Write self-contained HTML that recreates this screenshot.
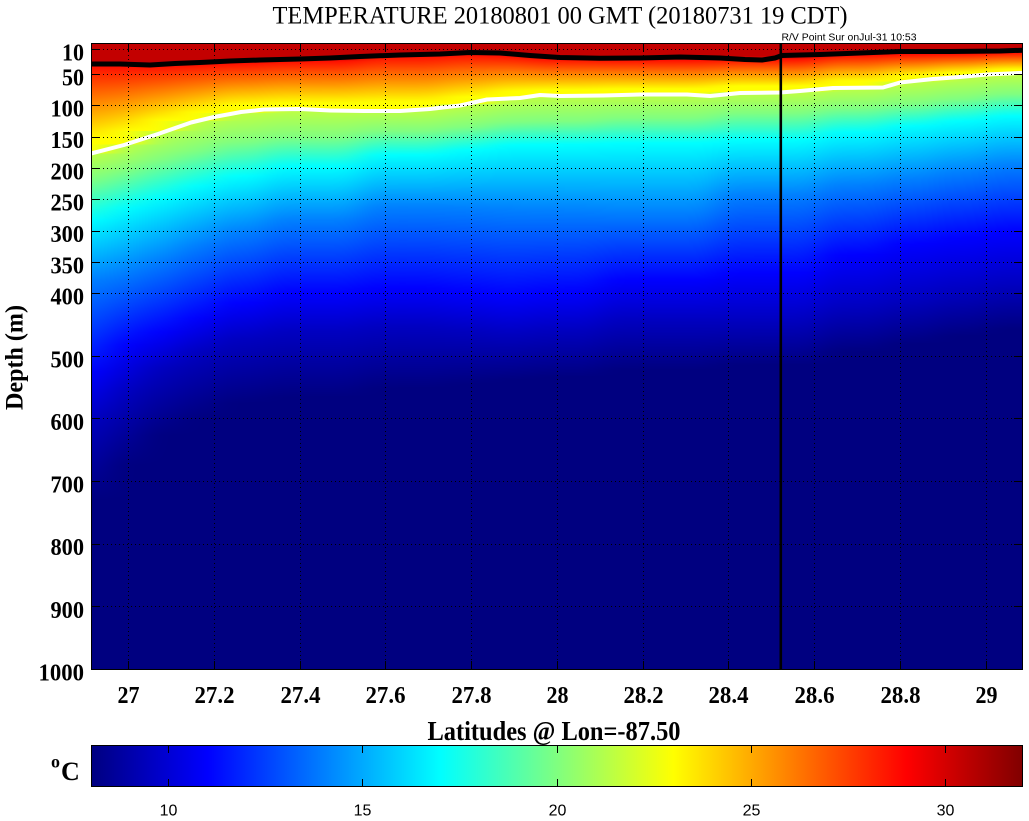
<!DOCTYPE html>
<html><head><meta charset="utf-8">
<style>
html,body{margin:0;padding:0;background:#fff;}
svg{display:block}
.a{stop-color:#c30000}.r{stop-color:#ff1000}.y{stop-color:#ffff00}.yg{stop-color:#c0ff40}
.g{stop-color:#80ff80}.c{stop-color:#00ffff}.lb{stop-color:#0080ff}.b{stop-color:#0000ff}
.db{stop-color:#0000c0}.n{stop-color:#000080}
.tk{font-family:"Liberation Serif",serif;font-weight:bold;font-size:24px;fill:#000}
.cb{font-family:"Liberation Sans",sans-serif;font-size:16px;fill:#000}
</style></head><body>
<svg width="1029" height="821" viewBox="0 0 1029 821" xmlns="http://www.w3.org/2000/svg">
<defs>
<clipPath id="plot"><rect x="91" y="43" width="932" height="627"/></clipPath>
<filter id="hb" filterUnits="userSpaceOnUse" x="0" y="0" width="1100" height="700" color-interpolation-filters="sRGB">
<feGaussianBlur stdDeviation="14 0"/>
</filter>
<linearGradient id="g1" gradientUnits="userSpaceOnUse" x1="0" y1="0" x2="0" y2="1000"><stop offset="0" class="a"/><stop offset=".063" class="a"/><stop offset=".0665" class="r"/><stop offset=".140" class="y"/><stop offset=".1535" class="y"/><stop offset=".1535" class="yg"/><stop offset=".180" class="g"/><stop offset=".220" class="c"/><stop offset=".280" class="lb"/><stop offset=".372" class="b"/><stop offset=".420" class="db"/><stop offset=".500" class="n"/><stop offset="1" class="n"/></linearGradient>
<linearGradient id="g2" gradientUnits="userSpaceOnUse" x1="0" y1="0" x2="0" y2="1000"><stop offset="0" class="a"/><stop offset=".0635" class="a"/><stop offset=".067" class="r"/><stop offset=".131" class="y"/><stop offset=".1445" class="y"/><stop offset=".1445" class="yg"/><stop offset=".171" class="g"/><stop offset=".208" class="c"/><stop offset=".272" class="lb"/><stop offset=".345" class="b"/><stop offset=".392" class="db"/><stop offset=".465" class="n"/><stop offset="1" class="n"/></linearGradient>
<linearGradient id="g3" gradientUnits="userSpaceOnUse" x1="0" y1="0" x2="0" y2="1000"><stop offset="0" class="a"/><stop offset=".063" class="a"/><stop offset=".0665" class="r"/><stop offset=".120" class="y"/><stop offset=".131" class="y"/><stop offset=".131" class="yg"/><stop offset=".160" class="g"/><stop offset=".197" class="c"/><stop offset=".260" class="lb"/><stop offset=".332" class="b"/><stop offset=".368" class="db"/><stop offset=".435" class="n"/><stop offset="1" class="n"/></linearGradient>
<linearGradient id="g4" gradientUnits="userSpaceOnUse" x1="0" y1="0" x2="0" y2="1000"><stop offset="0" class="a"/><stop offset=".0615" class="a"/><stop offset=".065" class="r"/><stop offset=".112" class="y"/><stop offset=".121" class="y"/><stop offset=".121" class="yg"/><stop offset=".151" class="g"/><stop offset=".186" class="c"/><stop offset=".245" class="lb"/><stop offset=".318" class="b"/><stop offset=".352" class="db"/><stop offset=".418" class="n"/><stop offset="1" class="n"/></linearGradient>
<linearGradient id="g5" gradientUnits="userSpaceOnUse" x1="0" y1="0" x2="0" y2="1000"><stop offset="0" class="a"/><stop offset=".060" class="a"/><stop offset=".0635" class="r"/><stop offset=".105" class="y"/><stop offset=".113" class="y"/><stop offset=".113" class="yg"/><stop offset=".142" class="g"/><stop offset=".176" class="c"/><stop offset=".232" class="lb"/><stop offset=".303" class="b"/><stop offset=".339" class="db"/><stop offset=".403" class="n"/><stop offset="1" class="n"/></linearGradient>
<linearGradient id="g6" gradientUnits="userSpaceOnUse" x1="0" y1="0" x2="0" y2="1000"><stop offset="0" class="a"/><stop offset=".058" class="a"/><stop offset=".0615" class="r"/><stop offset=".103" class="y"/><stop offset=".1095" class="y"/><stop offset=".1095" class="yg"/><stop offset=".137" class="g"/><stop offset=".166" class="c"/><stop offset=".220" class="lb"/><stop offset=".293" class="b"/><stop offset=".332" class="db"/><stop offset=".397" class="n"/><stop offset="1" class="n"/></linearGradient>
<linearGradient id="g7" gradientUnits="userSpaceOnUse" x1="0" y1="0" x2="0" y2="1000"><stop offset="0" class="a"/><stop offset=".0535" class="a"/><stop offset=".057" class="r"/><stop offset=".102" class="y"/><stop offset=".1095" class="y"/><stop offset=".1095" class="yg"/><stop offset=".131" class="g"/><stop offset=".155" class="c"/><stop offset=".207" class="lb"/><stop offset=".288" class="b"/><stop offset=".327" class="db"/><stop offset=".388" class="n"/><stop offset="1" class="n"/></linearGradient>
<linearGradient id="g8" gradientUnits="userSpaceOnUse" x1="0" y1="0" x2="0" y2="1000"><stop offset="0" class="a"/><stop offset=".0515" class="a"/><stop offset=".055" class="r"/><stop offset=".097" class="y"/><stop offset=".104" class="y"/><stop offset=".104" class="yg"/><stop offset=".127" class="g"/><stop offset=".150" class="c"/><stop offset=".208" class="lb"/><stop offset=".292" class="b"/><stop offset=".330" class="db"/><stop offset=".384" class="n"/><stop offset="1" class="n"/></linearGradient>
<linearGradient id="g9" gradientUnits="userSpaceOnUse" x1="0" y1="0" x2="0" y2="1000"><stop offset="0" class="a"/><stop offset=".053" class="a"/><stop offset=".0565" class="r"/><stop offset=".0915" class="y"/><stop offset=".098" class="y"/><stop offset=".098" class="yg"/><stop offset=".122" class="g"/><stop offset=".145" class="c"/><stop offset=".210" class="lb"/><stop offset=".296" class="b"/><stop offset=".334" class="db"/><stop offset=".380" class="n"/><stop offset="1" class="n"/></linearGradient>
<linearGradient id="g10" gradientUnits="userSpaceOnUse" x1="0" y1="0" x2="0" y2="1000"><stop offset="0" class="a"/><stop offset=".056" class="a"/><stop offset=".0595" class="r"/><stop offset=".090" class="y"/><stop offset=".0955" class="y"/><stop offset=".0955" class="yg"/><stop offset=".121" class="g"/><stop offset=".1445" class="c"/><stop offset=".211" class="lb"/><stop offset=".292" class="b"/><stop offset=".330" class="db"/><stop offset=".377" class="n"/><stop offset="1" class="n"/></linearGradient>
<linearGradient id="g11" gradientUnits="userSpaceOnUse" x1="0" y1="0" x2="0" y2="1000"><stop offset="0" class="a"/><stop offset=".0568" class="a"/><stop offset=".0603" class="r"/><stop offset=".089" class="y"/><stop offset=".0945" class="y"/><stop offset=".0945" class="yg"/><stop offset=".118" class="g"/><stop offset=".143" class="c"/><stop offset=".213" class="lb"/><stop offset=".280" class="b"/><stop offset=".320" class="db"/><stop offset=".370" class="n"/><stop offset="1" class="n"/></linearGradient>
<linearGradient id="g12" gradientUnits="userSpaceOnUse" x1="0" y1="0" x2="0" y2="1000"><stop offset="0" class="a"/><stop offset=".056" class="a"/><stop offset=".0595" class="r"/><stop offset=".086" class="y"/><stop offset=".092" class="y"/><stop offset=".092" class="yg"/><stop offset=".113" class="g"/><stop offset=".140" class="c"/><stop offset=".195" class="lb"/><stop offset=".273" class="b"/><stop offset=".320" class="db"/><stop offset=".365" class="n"/><stop offset="1" class="n"/></linearGradient>
<linearGradient id="g13" gradientUnits="userSpaceOnUse" x1="0" y1="0" x2="0" y2="1000"><stop offset="0" class="a"/><stop offset=".052" class="a"/><stop offset=".0555" class="r"/><stop offset=".081" class="y"/><stop offset=".087" class="y"/><stop offset=".087" class="yg"/><stop offset=".108" class="g"/><stop offset=".132" class="c"/><stop offset=".185" class="lb"/><stop offset=".255" class="b"/><stop offset=".307" class="db"/><stop offset=".352" class="n"/><stop offset="1" class="n"/></linearGradient>
<linearGradient id="g14" gradientUnits="userSpaceOnUse" x1="0" y1="0" x2="0" y2="1000"><stop offset="0" class="a"/><stop offset=".051" class="a"/><stop offset=".0545" class="r"/><stop offset=".076" class="y"/><stop offset=".0815" class="y"/><stop offset=".0815" class="yg"/><stop offset=".104" class="g"/><stop offset=".126" class="c"/><stop offset=".179" class="lb"/><stop offset=".244" class="b"/><stop offset=".299" class="db"/><stop offset=".344" class="n"/><stop offset="1" class="n"/></linearGradient>
<linearGradient id="g15" gradientUnits="userSpaceOnUse" x1="0" y1="0" x2="0" y2="1000"><stop offset="0" class="a"/><stop offset=".0505" class="a"/><stop offset=".054" class="r"/><stop offset=".0725" class="y"/><stop offset=".077" class="y"/><stop offset=".077" class="yg"/><stop offset=".099" class="g"/><stop offset=".121" class="c"/><stop offset=".172" class="lb"/><stop offset=".238" class="b"/><stop offset=".291" class="db"/><stop offset=".336" class="n"/><stop offset="1" class="n"/></linearGradient>
<linearGradient id="g16" gradientUnits="userSpaceOnUse" x1="0" y1="0" x2="0" y2="1000"><stop offset="0" class="a"/><stop offset=".0495" class="a"/><stop offset=".053" class="r"/><stop offset=".0695" class="y"/><stop offset=".0735" class="y"/><stop offset=".0735" class="yg"/><stop offset=".094" class="g"/><stop offset=".116" class="c"/><stop offset=".165" class="lb"/><stop offset=".232" class="b"/><stop offset=".284" class="db"/><stop offset=".329" class="n"/><stop offset="1" class="n"/></linearGradient>
<linearGradient id="jet" x1="0" y1="0" x2="1" y2="0">
<stop offset="0" stop-color="#000080"/><stop offset=".125" stop-color="#0000ff"/><stop offset=".375" stop-color="#00ffff"/><stop offset=".625" stop-color="#ffff00"/><stop offset=".875" stop-color="#ff0000"/><stop offset="1" stop-color="#800000"/>
</linearGradient>
</defs>

<rect width="1029" height="821" fill="#fff"/>

<!-- title -->
<text x="560" y="23.5" text-anchor="middle" font-family="Liberation Serif, serif" font-size="25" textLength="575" lengthAdjust="spacingAndGlyphs">TEMPERATURE 20180801 00 GMT (20180731 19 CDT)</text>
<text x="781.5" y="40.5" font-family="Liberation Sans, sans-serif" font-size="10" textLength="135" lengthAdjust="spacingAndGlyphs">R/V Point Sur onJul-31 10:53</text>

<!-- field -->
<g clip-path="url(#plot)">
<g filter="url(#hb)">
<rect x="30" y="43" width="78" height="627" fill="url(#g1)"/>
<rect x="108" y="43" width="34" height="627" fill="url(#g2)"/>
<rect x="142" y="43" width="36" height="627" fill="url(#g3)"/>
<rect x="178" y="43" width="37" height="627" fill="url(#g4)"/>
<rect x="215" y="43" width="50" height="627" fill="url(#g5)"/>
<rect x="265" y="43" width="95" height="627" fill="url(#g6)"/>
<rect x="360" y="43" width="85" height="627" fill="url(#g7)"/>
<rect x="445" y="43" width="45" height="627" fill="url(#g8)"/>
<rect x="490" y="43" width="40" height="627" fill="url(#g9)"/>
<rect x="530" y="43" width="70" height="627" fill="url(#g10)"/>
<rect x="600" y="43" width="115" height="627" fill="url(#g11)"/>
<rect x="715" y="43" width="105" height="627" fill="url(#g12)"/>
<rect x="820" y="43" width="65" height="627" fill="url(#g13)"/>
<rect x="885" y="43" width="50" height="627" fill="url(#g14)"/>
<rect x="935" y="43" width="50" height="627" fill="url(#g15)"/>
<rect x="985" y="43" width="105" height="627" fill="url(#g16)"/>
</g>
<!-- black contour -->
<polyline fill="none" stroke="#000" stroke-width="5" stroke-linejoin="round" points="85,64 120,64 150,65 175,63.5 200,62.5 230,61 260,60 300,59 330,58 360,56.5 400,55 440,54 470,52.5 500,53 530,55.5 560,57.5 600,58.3 640,58 680,57 700,57.5 720,58 745,59.5 762,60 775,58 782,55.5 800,55 820,54.5 860,53 900,51.5 950,51.5 1000,51 1030,50"/>
<!-- white contour -->
<polyline fill="none" stroke="#fff" stroke-width="4" stroke-linejoin="round" points="85,155 91,153.5 124,145 158,134 191,122.5 214,117 241,112 264,109.5 300,109 330,110.5 364,111 400,111 430,109 460,105.5 487,99.5 520,98 540,95 560,96 603,95.5 640,94.5 687,94.5 710,96 740,93 780,92.5 800,91 833,88 883,87.5 900,82.5 933,79 960,77 987,74.5 1030,72.5"/>
<!-- grid -->
<path fill="none" stroke="#000" stroke-width="1" stroke-dasharray="1,3" d="M91 49.5H1022M91 74.5H1022M91 105.5H1022M91 137.5H1022M91 168.5H1022M91 199.5H1022M91 231.5H1022M91 262.5H1022M91 293.5H1022M91 356.5H1022M91 418.5H1022M91 481.5H1022M91 544.5H1022M91 606.5H1022M128.5 43V669M214.5 43V669M300.5 43V669M385.5 43V669M471.5 43V669M557.5 43V669M643.5 43V669M728.5 43V669M814.5 43V669M900.5 43V669M986.5 43V669"/>
<!-- vertical marker line -->
<rect x="779.5" y="43" width="2.6" height="627" fill="#000"/>
</g>

<!-- axes box and ticks -->
<rect x="91.5" y="43.5" width="931" height="626" fill="none" stroke="#000" stroke-width="1"/>
<path fill="none" stroke="#000" stroke-width="1" d="M91 49.5h9M91 74.5h9M91 105.5h9M91 137.5h9M91 168.5h9M91 199.5h9M91 231.5h9M91 262.5h9M91 293.5h9M91 356.5h9M91 418.5h9M91 481.5h9M91 544.5h9M91 606.5h9M1023 49.5h-9M1023 74.5h-9M1023 105.5h-9M1023 137.5h-9M1023 168.5h-9M1023 199.5h-9M1023 231.5h-9M1023 262.5h-9M1023 293.5h-9M1023 356.5h-9M1023 418.5h-9M1023 481.5h-9M1023 544.5h-9M1023 606.5h-9M128.5 670v-9M214.5 670v-9M300.5 670v-9M385.5 670v-9M471.5 670v-9M557.5 670v-9M643.5 670v-9M728.5 670v-9M814.5 670v-9M900.5 670v-9M986.5 670v-9M128.5 43v9M214.5 43v9M300.5 43v9M385.5 43v9M471.5 43v9M557.5 43v9M643.5 43v9M728.5 43v9M814.5 43v9M900.5 43v9M986.5 43v9"/>

<!-- y tick labels -->
<g class="tk" text-anchor="end">
<text x="84" y="60.5" textLength="22" lengthAdjust="spacingAndGlyphs">10</text>
<text x="84" y="85.5" textLength="22" lengthAdjust="spacingAndGlyphs">50</text>
<text x="84" y="116.5" textLength="33.5" lengthAdjust="spacingAndGlyphs">100</text>
<text x="84" y="148" textLength="33.5" lengthAdjust="spacingAndGlyphs">150</text>
<text x="84" y="179.5" textLength="33.5" lengthAdjust="spacingAndGlyphs">200</text>
<text x="84" y="210.5" textLength="33.5" lengthAdjust="spacingAndGlyphs">250</text>
<text x="84" y="242" textLength="33.5" lengthAdjust="spacingAndGlyphs">300</text>
<text x="84" y="273.5" textLength="33.5" lengthAdjust="spacingAndGlyphs">350</text>
<text x="84" y="304.5" textLength="33.5" lengthAdjust="spacingAndGlyphs">400</text>
<text x="84" y="367.5" textLength="33.5" lengthAdjust="spacingAndGlyphs">500</text>
<text x="84" y="430" textLength="33.5" lengthAdjust="spacingAndGlyphs">600</text>
<text x="84" y="492.5" textLength="33.5" lengthAdjust="spacingAndGlyphs">700</text>
<text x="84" y="555" textLength="33.5" lengthAdjust="spacingAndGlyphs">800</text>
<text x="84" y="618" textLength="33.5" lengthAdjust="spacingAndGlyphs">900</text>
<text x="84" y="680.5" textLength="45.5" lengthAdjust="spacingAndGlyphs">1000</text>
</g>

<!-- x tick labels -->
<g class="tk" text-anchor="middle">
<text x="128.5" y="703" textLength="22" lengthAdjust="spacingAndGlyphs">27</text>
<text x="214.5" y="703" textLength="40" lengthAdjust="spacingAndGlyphs">27.2</text>
<text x="300.5" y="703" textLength="40" lengthAdjust="spacingAndGlyphs">27.4</text>
<text x="385.5" y="703" textLength="40" lengthAdjust="spacingAndGlyphs">27.6</text>
<text x="471.5" y="703" textLength="40" lengthAdjust="spacingAndGlyphs">27.8</text>
<text x="557.5" y="703" textLength="22" lengthAdjust="spacingAndGlyphs">28</text>
<text x="643.5" y="703" textLength="40" lengthAdjust="spacingAndGlyphs">28.2</text>
<text x="728.5" y="703" textLength="40" lengthAdjust="spacingAndGlyphs">28.4</text>
<text x="814.5" y="703" textLength="40" lengthAdjust="spacingAndGlyphs">28.6</text>
<text x="900.5" y="703" textLength="40" lengthAdjust="spacingAndGlyphs">28.8</text>
<text x="986.5" y="703" textLength="22" lengthAdjust="spacingAndGlyphs">29</text>
</g>

<!-- axis titles -->
<text x="554" y="740" text-anchor="middle" font-family="Liberation Serif, serif" font-weight="bold" font-size="27" textLength="253" lengthAdjust="spacingAndGlyphs">Latitudes @ Lon=-87.50</text>
<text transform="translate(22.5,357.5) rotate(-90)" text-anchor="middle" font-family="Liberation Serif, serif" font-weight="bold" font-size="25" textLength="105" lengthAdjust="spacingAndGlyphs">Depth (m)</text>

<!-- colorbar -->
<rect x="91" y="745" width="932" height="42" fill="url(#jet)"/>
<rect x="91.5" y="745.5" width="931" height="41" fill="none" stroke="#000" stroke-width="1"/>
<path fill="none" stroke="#000" stroke-width="1" d="M168.5 745v8M362.5 745v8M557.5 745v8M751.5 745v8M945.5 745v8M168.5 787v-8M362.5 787v-8M557.5 787v-8M751.5 787v-8M945.5 787v-8"/>
<g class="cb" text-anchor="middle">
<text x="168.5" y="815.5">10</text>
<text x="362.5" y="815.5">15</text>
<text x="557.5" y="815.5">20</text>
<text x="751.5" y="815.5">25</text>
<text x="945.5" y="815.5">30</text>
</g>
<text x="51" y="767.5" font-family="Liberation Serif, serif" font-weight="bold" font-size="18">o</text>
<text x="61" y="780" font-family="Liberation Serif, serif" font-weight="bold" font-size="26">C</text>
</svg>
</body></html>
